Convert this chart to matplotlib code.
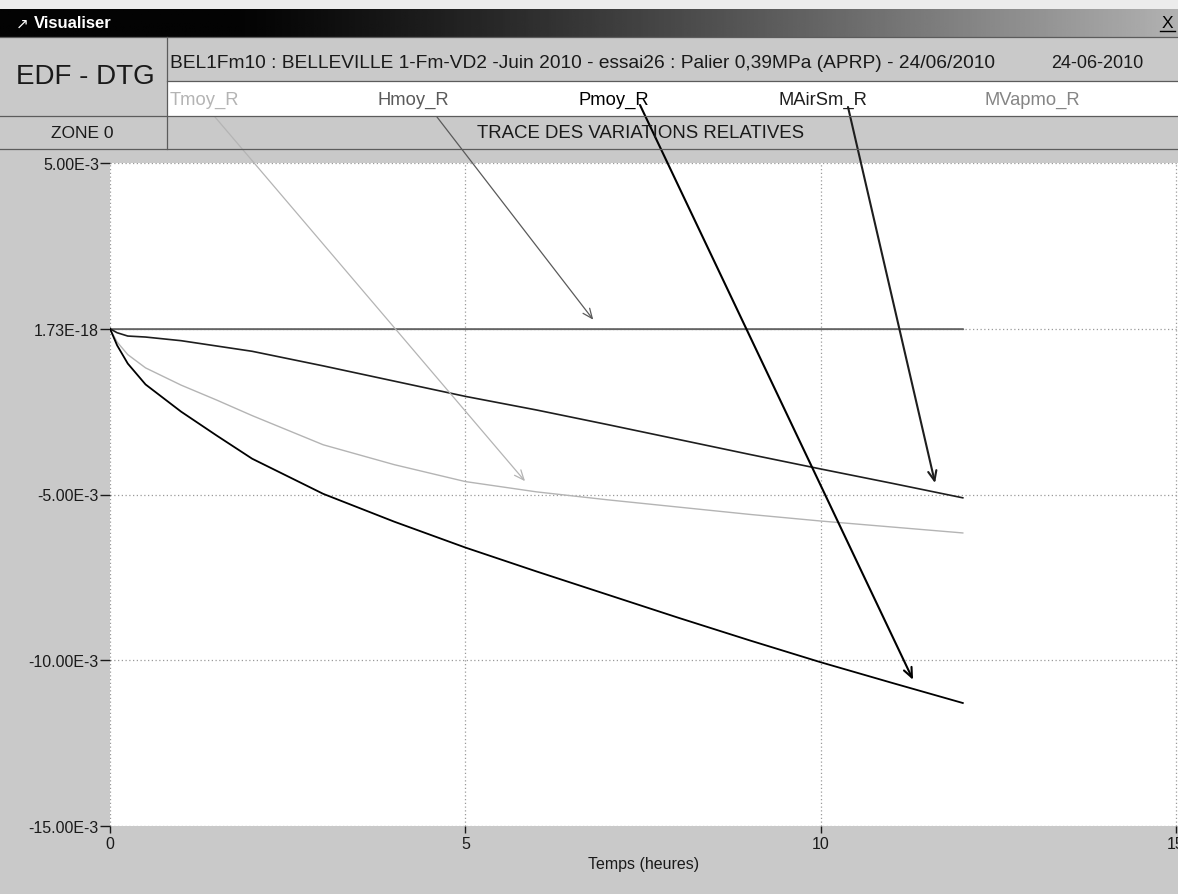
import numpy as np
import matplotlib
matplotlib.use("Agg")
import matplotlib.pyplot as plt
import matplotlib.transforms as mtransforms
from matplotlib.patches import Rectangle
from matplotlib import font_manager as fm

# ---- data -------------------------------------------------------------
temps_h = [0, 0.1, 0.25, 0.5, 1, 1.5, 2, 3, 4, 5, 6, 7, 8, 9, 10, 11, 12]

tmoy_r = [0, -0.40, -0.78, -1.18, -1.70, -2.15, -2.62, -3.50, -4.10, -4.61,
          -4.92, -5.16, -5.38, -5.60, -5.80, -5.98, -6.16]
hmoy_r = [0] * 17
pmoy_r = [0, -0.50, -1.05, -1.68, -2.50, -3.22, -3.92, -4.98, -5.82, -6.60,
          -7.32, -8.02, -8.72, -9.40, -10.06, -10.68, -11.29]
mairsm_r = [0, -0.12, -0.22, -0.25, -0.36, -0.52, -0.68, -1.12, -1.58, -2.04,
            -2.45, -2.89, -3.34, -3.79, -4.23, -4.66, -5.10]
mvapmo_r = [0] * 17
scale = 1e-3  # values above are in 1E-3 units

series_names = ["Tmoy_R", "Hmoy_R", "Pmoy_R", "MAirSm_R", "MVapmo_R"]
series_colors = ["#b4b4b4", "#5a5a5a", "#000000", "#1e1e1e", "#858585"]

ytick_values = [5e-3, 1.73e-18, -5e-3, -10e-3, -15e-3]
ytick_labels = ["5.00E-3", "1.73E-18", "-5.00E-3", "-10.00E-3", "-15.00E-3"]
xtick_values = [0, 5, 10, 15]

titre_essai = ("BEL1Fm10 : BELLEVILLE 1-Fm-VD2 -Juin 2010 - essai26 : "
               "Palier 0,39MPa (APRP) - 24/06/2010")
date_essai = "24-06-2010"

# time at which each annotation arrow points to its curve
arrow_tip_time = {"Tmoy_R": 5.84, "Hmoy_R": 6.80, "Pmoy_R": 11.30, "MAirSm_R": 11.61}

# ---- figure -----------------------------------------------------------
W, H = 1178, 895
names = {f.name for f in fm.fontManager.ttflist}
font = "Liberation Sans" if "Liberation Sans" in names else "DejaVu Sans"
plt.rcParams["font.family"] = [font, "DejaVu Sans"]

BG = "#c9c9c9"
fig = plt.figure(figsize=(W / 100, H / 100), dpi=100, facecolor=BG)


def fx(x):
    return x / W


def fy(y):
    return 1 - y / H


def rect(x0, y0, x1, y1, color, z=0):
    fig.add_artist(Rectangle((fx(x0), fy(y1)), fx(x1 - x0), (y1 - y0) / H,
                             transform=fig.transFigure, facecolor=color,
                             edgecolor="none", zorder=z))


def hline(y, x0, x1, color="#5c5c5c", lw=0.9):
    fig.add_artist(plt.Line2D([fx(x0), fx(x1)], [fy(y), fy(y)],
                              transform=fig.transFigure, color=color, lw=lw))


def vline(x, y0, y1, color="#5c5c5c", lw=0.9):
    fig.add_artist(plt.Line2D([fx(x), fx(x)], [fy(y0), fy(y1)],
                              transform=fig.transFigure, color=color, lw=lw))


# window strip and title bar
rect(0, 0, W, 10, "#ececec")
tb = fig.add_axes([0, fy(38), 1, 28 / H])
grad = np.clip(np.linspace(-0.25, 1, 512), 0, 1) ** 1.2
tb.imshow(grad[None, :], aspect="auto", cmap="gray", vmin=-0.02, vmax=1.45,
          extent=[0, 1, 0, 1])
tb.set_axis_off()
fig.text(fx(16), fy(24), "\u2197", color="white", fontsize=11,
         va="center", ha="left", family=["DejaVu Sans"])
fig.text(fx(34), fy(24), "Visualiser", color="white", fontsize=12,
         fontweight="bold", va="center", ha="left")
fig.text(fx(1167), fy(23), "X", color="black", fontsize=12.5,
         va="center", ha="center")
hline(32, 1160, 1175, color="black", lw=1.0)

# header cells
rect(168, 82, W, 117, "white", z=0)
hline(38, 0, W)
vline(167, 38, 150)
hline(82, 167, W)
hline(117, 0, W)
hline(150, 0, W)

fig.text(fx(85), fy(77), "EDF - DTG", fontsize=20, va="center", ha="center",
         color="#1a1a1a")
fig.text(fx(170), fy(64), titre_essai, fontsize=13.8, va="center", ha="left",
         color="#1a1a1a")
fig.text(fx(1051), fy(64), date_essai, fontsize=13, va="center", ha="left",
         color="#1a1a1a")
fig.text(fx(82), fy(134), "ZONE 0", fontsize=12.5, va="center", ha="center",
         color="#1a1a1a")
fig.text(fx(641), fy(134), "TRACE DES VARIATIONS RELATIVES", fontsize=13.4,
         va="center", ha="center", color="#1a1a1a")

legend_x = [170, 378, 579, 779, 984]
for name, col, lx in zip(series_names, series_colors, legend_x):
    fig.text(fx(lx), fy(100), name, fontsize=13.2, va="center", ha="left",
             color=col)

# ---- plot area ------------------------------------------------------
x_left, x_right, x15 = 110, 1178, 1176
y_top, y_bot = 164, 827
ax = fig.add_axes([fx(x_left), fy(y_bot), fx(x_right - x_left),
                   (y_bot - y_top) / H])
ax.set_facecolor("white")
ax.set_xlim(0, 15 * (x_right - x_left) / (x15 - x_left))
ax.set_ylim(-15e-3, 5e-3)
for s in ax.spines.values():
    s.set_visible(False)

ax.set_yticks(ytick_values)
ax.set_yticklabels(ytick_labels)
ax.set_xticks(xtick_values)
ax.set_xticklabels([str(v) for v in xtick_values])
ax.tick_params(axis="y", direction="out", length=7, width=1.0, pad=1,
               labelsize=11.5, colors="#1a1a1a")
ax.tick_params(axis="x", direction="out", length=5, width=1.0, pad=2,
               labelsize=11.5, colors="#1a1a1a")
ax.grid(True, color="#9a9a9a", linestyle=(0, (1, 2)), linewidth=0.9)
ax.set_axisbelow(True)
ax.set_xlabel("Temps (heures)", fontsize=11.5, labelpad=4, color="#1a1a1a")

t = np.array(temps_h)
all_series = [tmoy_r, hmoy_r, pmoy_r, mairsm_r, mvapmo_r]
widths = [1.0, 1.1, 1.3, 1.2, 0.9]
order = [4, 1, 0, 3, 2]
for i in order:
    v = np.array(all_series[i]) * scale
    ax.plot(t, v, color=series_colors[i], lw=widths[i], zorder=3)

# annotation arrows from the series names down to their curves
arrow_start = {"Tmoy_R": (215, 118), "Hmoy_R": (437, 118),
               "Pmoy_R": (640, 106), "MAirSm_R": (848, 108)}
arrow_lw = {"Tmoy_R": 0.9, "Hmoy_R": 0.9, "Pmoy_R": 1.5, "MAirSm_R": 1.5}
lift = ax.transData + mtransforms.ScaledTranslation(0, 9 / 100, fig.dpi_scale_trans)
for name, col, vals in zip(series_names, series_colors, all_series):
    if name not in arrow_tip_time:
        continue
    tt = arrow_tip_time[name]
    vv = np.interp(tt, t, np.array(vals) * scale)
    sx, sy = arrow_start[name]
    ax.annotate("", xy=(tt, vv), xycoords=lift,
                xytext=(sx, H - sy), textcoords="figure pixels",
                arrowprops=dict(arrowstyle="->,head_length=0.7,head_width=0.3",
                                color=col, lw=arrow_lw[name],
                                shrinkA=0, shrinkB=0),
                annotation_clip=False, zorder=5)

fig.savefig("out.png", dpi=100, facecolor=BG)
